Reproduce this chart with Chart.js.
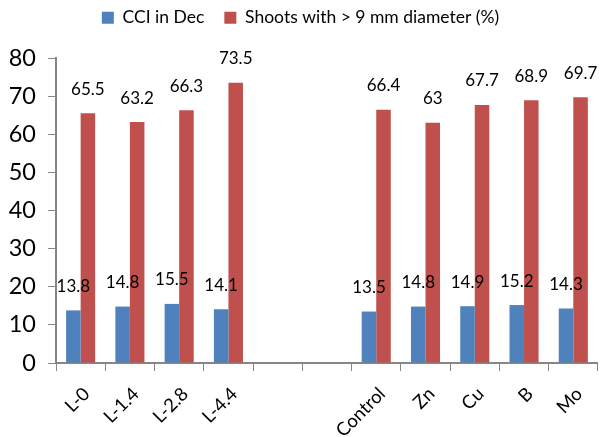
<!DOCTYPE html>
<html>
<head>
<meta charset="utf-8">
<script src="https://cdn.jsdelivr.net/npm/chart.js@4.4.1/dist/chart.umd.min.js"></script>
<style>
  html, body { margin: 0; padding: 0; background: #ffffff; }
  #wrap { width: 601px; height: 437px; }
</style>
</head>
<body>
<div id="wrap"><canvas id="chart" width="601" height="437"></canvas></div>
<script>
// Treatments (two blank slots separate the L series from the micronutrients)
const categories = ['L-0', 'L-1.4', 'L-2.8', 'L-4.4', '', '', 'Control', 'Zn', 'Cu', 'B', 'Mo'];
const cciDec = [13.8, 14.8, 15.5, 14.1, null, null, 13.5, 14.8, 14.9, 15.2, 14.3];
const shoots9mm = [65.5, 63.2, 66.3, 73.5, null, null, 66.4, 63, 67.7, 68.9, 69.7];
const seriesNames = ['CCI in Dec', 'Shoots with > 9 mm diameter (%)'];
const yTicks = [0, 10, 20, 30, 40, 50, 60, 70, 80];

const FONT = 'Lato';
const AXIS = '#868686';

// Writes each bar's value above it
const valueLabels = {
  id: 'valueLabels',
  afterDatasetsDraw(chart) {
    const ctx = chart.ctx;
    ctx.save();
    ctx.font = '17px ' + FONT;
    ctx.fillStyle = '#000000';
    ctx.textAlign = 'center';
    ctx.textBaseline = 'middle';
    chart.data.datasets.forEach((ds, i) => {
      const meta = chart.getDatasetMeta(i);
      meta.data.forEach((bar, j) => {
        const v = ds.data[j];
        if (v === null || v === undefined) return;
        ctx.fillText(String(v), bar.x, bar.y - 24);
      });
    });
    ctx.restore();
  }
};

// Reserves a fixed band for the legend and lifts the legend row inside it
const legendBand = {
  id: 'legendBand',
  beforeLayout(chart) {
    const lg = chart.legend;
    if (lg && !lg._bandWrapped) {
      const fit = lg.fit;
      lg.fit = function () {
        fit.call(this);
        this.height = 58;
      };
      lg._bandWrapped = true;
    }
  },
  afterLayout(chart) {
    const lg = chart.legend;
    if (lg) {
      lg.top = -11;
      lg.bottom = lg.top + lg.height;
    }
  }
};

new Chart(document.getElementById('chart'), {
  type: 'bar',
  data: {
    labels: categories,
    datasets: [
      { label: seriesNames[0], data: cciDec, backgroundColor: '#4F81BD',
        categoryPercentage: 0.59, barPercentage: 1.0 },
      { label: seriesNames[1], data: shoots9mm, backgroundColor: '#C0504D',
        categoryPercentage: 0.59, barPercentage: 1.0 }
    ]
  },
  options: {
    responsive: false,
    animation: false,
    layout: { padding: { top: 0, right: 0, bottom: 0, left: 0 } },
    plugins: {
      legend: {
        position: 'top',
        labels: {
          font: { family: FONT, size: 17.5 },
          color: '#000000',
          boxWidth: 12,
          boxHeight: 12,
          padding: 20
        }
      },
      tooltip: { enabled: false }
    },
    scales: {
      x: {
        offset: true,
        grid: { display: true, drawOnChartArea: false, drawTicks: true, tickLength: 8, color: AXIS, offset: true },
        border: { display: true, color: AXIS, width: 2 },
        ticks: {
          font: { family: FONT, size: 18.5 },
          color: '#000000',
          maxRotation: 45, minRotation: 45,
          autoSkip: false,
          padding: 12,
          labelOffset: 6
        },
        afterFit(scale) { scale.height = 74; }
      },
      y: {
        min: 0, max: 80,
        afterBuildTicks(scale) { scale.ticks = yTicks.map(v => ({ value: v })); },
        grid: { display: true, drawOnChartArea: false, drawTicks: true, tickLength: 8, color: AXIS },
        border: { display: true, color: AXIS, width: 2 },
        ticks: {
          font: { family: FONT, size: 23.5 },
          color: '#000000',
          padding: 12
        },
        afterFit(scale) { scale.width = 56; }
      }
    }
  },
  plugins: [legendBand, valueLabels]
});
</script>
</body>
</html>
